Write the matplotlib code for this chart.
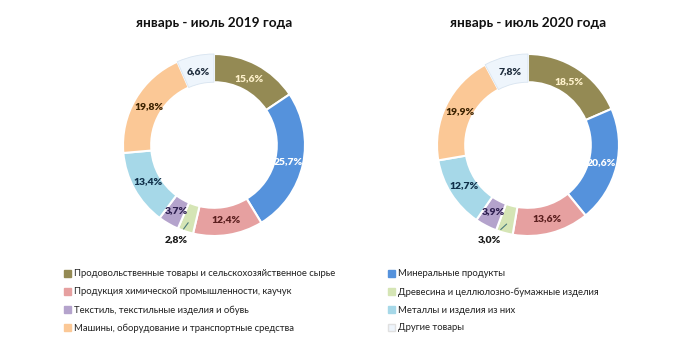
import numpy as np
import matplotlib.pyplot as plt
from matplotlib.patches import Patch

plt.rcParams['font.family'] = ['Lato', 'DejaVu Sans']

categories = ['Продовольственные товары и сельскохозяйственное сырье',
              'Минеральные продукты',
              'Продукция химической промышленности, каучук',
              'Древесина и целлюлозно-бумажные изделия',
              'Текстиль, текстильные изделия и обувь',
              'Металлы и изделия из них',
              'Машины, оборудование и транспортные средства',
              'Другие товары']
share_2019 = [15.6, 25.7, 12.4, 2.8, 3.7, 13.4, 19.8, 6.6]
share_2020 = [18.5, 20.6, 13.6, 3.0, 3.9, 12.7, 19.9, 7.8]
titles = ['январь - июль 2019 года', 'январь - июль 2020 года']

colors = ['#948A54', '#5592DC', '#E6A0A0', '#D5E5B5', '#B4A3CC', '#A6D8E8', '#FBC896', '#EEF5FC']
label_colors = ['#FFF2CC', 'white', '#5A1E1E', '#1A1A1A', '#2E2050', '#10304A', '#3B2200', '#1F2D3D']

fig = plt.figure(figsize=(7, 3.54), dpi=100)

centers = [214, 528]
for k, (vals, title) in enumerate(zip([share_2019, share_2020], titles)):
    cx = centers[k]
    ax = fig.add_axes([(cx - 91) / 700, (354 - 145 - 91) / 354, 182 / 700, 182 / 354])
    wedges, _ = ax.pie(vals, colors=colors, startangle=90, counterclock=False,
                       radius=1.0, wedgeprops=dict(width=0.31, edgecolor='white', linewidth=1.5))
    wedges[-1].set_edgecolor('#D8E4F0')
    wedges[-1].set_linewidth(0.6)
    ax.set_xlim(-1, 1)
    ax.set_ylim(-1, 1)
    ax.set_aspect('equal')
    ax.axis('off')

    ang = 90.0
    for i, v in enumerate(vals):
        mid = ang - v / 2 * 3.6
        ang -= v * 3.6
        th = np.deg2rad(mid)
        txt = f'{v:.1f}%'.replace('.', ',')
        if i == 3:
            x0, y0 = 0.9 * np.cos(th), 0.9 * np.sin(th)
            ax.annotate(txt, xy=(x0, y0), xytext=(-0.42, -1.04),
                        ha='center', va='center', fontsize=7.5, fontweight='heavy',
                        color='#1A1A1A',
                        arrowprops=dict(arrowstyle='-', color='#4A7A7A', lw=0.8,
                                        shrinkA=3, shrinkB=0))
        else:
            r = 0.83
            ax.text(r * np.cos(th), r * np.sin(th), txt, ha='center', va='center',
                    fontsize=7.5, fontweight='heavy', color=label_colors[i])

    fig.text(cx / 700, 1 - 23 / 354, title, ha='center', va='center',
             fontsize=9.8, fontweight='bold', color='#111111')

order = [0, 2, 4, 6, 1, 3, 5, 7]
handles = [Patch(facecolor=colors[i], edgecolor='#E0E0E0' if i == 7 else colors[i])
           for i in order]
labels = [categories[i] for i in order]
fig.legend(handles, labels, ncol=2, loc='upper left', bbox_to_anchor=(55 / 700, 1 - 261 / 354),
           frameon=False, fontsize=6.8, handlelength=0.75, handleheight=0.75,
           handletextpad=0.35, labelspacing=0.94, columnspacing=5.6, labelcolor='#222222')

fig.savefig('out.png', dpi=100)
